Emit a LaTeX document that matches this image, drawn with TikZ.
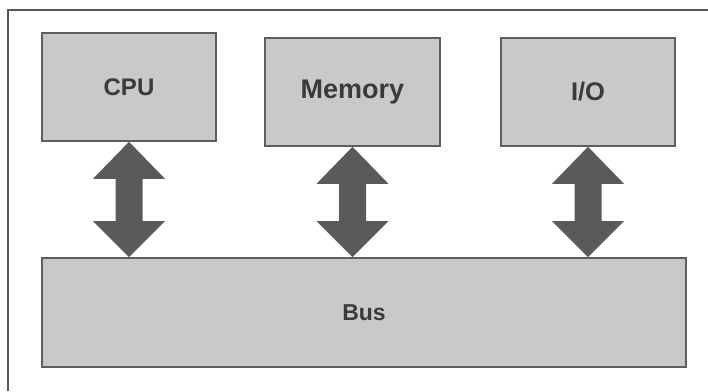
\documentclass[tikz,border=0pt]{standalone}
\usepackage{fontspec}
\setmainfont{Liberation Sans}
\usetikzlibrary{calc}
\definecolor{boxfill}{HTML}{C9C9C9}
\definecolor{boxline}{HTML}{5E5E5E}
\definecolor{arrowgray}{HTML}{5A5A5A}
\definecolor{labelgray}{HTML}{3A3A3A}
\definecolor{framegray}{HTML}{555555}
\tikzset{
  unit/.style={draw=boxline, line width=1.6pt, fill=boxfill, inner sep=0pt,
    text=labelgray},
  lbl/.style={font=\fontsize{#1}{#1}\selectfont\bfseries},
  arrowbody/.style={fill=arrowgray},
}
% double-headed block arrow from the bottom of #1 to the top of #2
\newcommand\linkarrow[2]{%
  \fill[arrowbody] (#1.south) -- ++(36,37) -- ++(-22.5,0)
    -- ($(#1.south |- #2.north)+(13.5,-36)$) -- ++(22.5,0)
    -- (#1.south |- #2.north) -- ++(-36,-36) -- ++(22.5,0)
    -- ($(#1.south)+(-13.5,37)$) -- ++(-22.5,0) -- cycle;}
\begin{document}
\begin{tikzpicture}[x=1pt, y=-1pt]
  \useasboundingbox (0,0) rectangle (708,391);
  \fill[white] (0,0) rectangle (708,391);
  % outer frame (open on the right and bottom)
  \draw[framegray, line width=1.5pt] (8,391) -- (8,10) -- (708,10);

  \node[unit, lbl=24, minimum width=174pt, minimum height=108pt] (cpu) at (129,87) {CPU};
  \node[unit, lbl=27, minimum width=175pt, minimum height=108pt] (mem) at (352.5,92) {Memory};
  \node[unit, lbl=25.5, minimum width=174pt, minimum height=108pt] (io)  at (588,92) {I/O};
  \node[unit, lbl=23, minimum width=644pt, minimum height=109pt] (bus) at (364,312.5) {Bus};

  \linkarrow{cpu}{bus}
  \linkarrow{mem}{bus}
  \linkarrow{io}{bus}
\end{tikzpicture}
\end{document}
